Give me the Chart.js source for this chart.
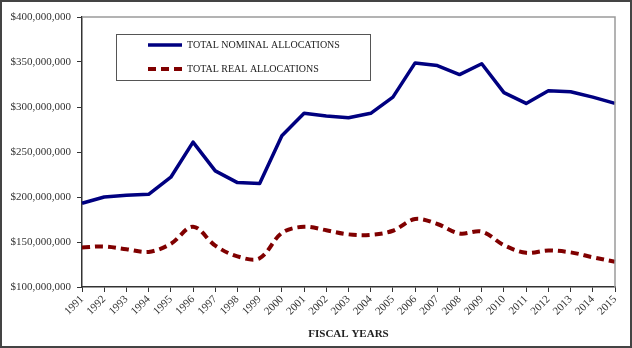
<!DOCTYPE html>
<html>
<head>
<meta charset="utf-8">
<script src="https://cdn.jsdelivr.net/npm/chart.js@4"></script>
<style>
  html, body { margin: 0; padding: 0; background: #fff; }
  #allocChart { display: block; }
</style>
</head>
<body>
<canvas id="allocChart" width="632" height="348"></canvas>
<script>
const years = ['1991','1992','1993','1994','1995','1996','1997','1998','1999','2000','2001','2002','2003',
  '2004','2005','2006','2007','2008','2009','2010','2011','2012','2013','2014','2015'];

// values in dollars
const nominal = [193e6, 200e6, 202e6, 203e6, 222e6, 261e6, 229e6, 216e6, 215e6, 268e6, 293e6, 290e6, 288e6,
  293e6, 311e6, 349e6, 346e6, 336e6, 348e6, 316e6, 304e6, 318e6, 317e6, 311e6, 304e6];
const real = [144e6, 145e6, 142e6, 139e6, 148e6, 167e6, 146e6, 134e6, 132e6, 160e6, 167e6, 163e6, 158.5e6,
  158e6, 162.5e6, 175.5e6, 170e6, 159.5e6, 161.5e6, 146.5e6, 138e6, 140.5e6, 138.5e6, 133e6, 128e6];

const serif = "'Liberation Serif', 'Times New Roman', serif";

function money(v) {
  return '$' + v.toLocaleString('en-US');
}

// box legend, plot frame and outer border
const framePlugin = {
  id: 'frame',
  afterDraw(chart) {
    const ctx = chart.ctx;
    const a = chart.chartArea;
    ctx.save();
    // grey top + right of plot area
    ctx.strokeStyle = '#9a9a9a';
    ctx.lineWidth = 1.5;
    ctx.beginPath();
    ctx.moveTo(a.left, a.top);
    ctx.lineTo(a.right, a.top);
    ctx.lineTo(a.right, a.bottom);
    ctx.stroke();

    // legend box
    ctx.strokeStyle = '#555';
    ctx.lineWidth = 1;
    ctx.strokeRect(116.5, 34.5, 254, 46);
    chart.data.datasets.forEach((ds, i) => {
      const y = 45 + i * 24;
      ctx.beginPath();
      ctx.strokeStyle = ds.borderColor;
      ctx.lineWidth = ds.borderWidth;
      ctx.setLineDash(ds.borderDash || []);
      ctx.moveTo(148, y);
      ctx.lineTo(182, y);
      ctx.stroke();
      ctx.setLineDash([]);
      ctx.fillStyle = '#222';
      ctx.font = '10px ' + serif;
      ctx.textBaseline = 'middle';
      ctx.fillText(ds.label, 187, y);
    });

    // outer border
    ctx.strokeStyle = '#444';
    ctx.lineWidth = 2;
    ctx.strokeRect(1, 1, 630, 346);
    ctx.restore();
  }
};

const ctx = document.getElementById('allocChart').getContext('2d');
window.allocChart = new Chart(ctx, {
  type: 'line',
  data: {
    labels: years,
    datasets: [{
      label: 'TOTAL NOMINAL ALLOCATIONS',
      data: nominal,
      borderColor: '#000080',
      borderWidth: 3.5,
      pointRadius: 0,
      tension: 0,
      borderJoinStyle: 'round'
    }, {
      label: 'TOTAL REAL ALLOCATIONS',
      data: real,
      borderColor: '#800000',
      borderWidth: 4,
      borderDash: [8, 5],
      pointRadius: 0,
      tension: 0.35
    }]
  },
  options: {
    responsive: false,
    animation: false,
    devicePixelRatio: 1,
    layout: { padding: { top: 17, right: 17, left: 0, bottom: 0 } },
    plugins: {
      legend: { display: false },
      tooltip: { enabled: false }
    },
    scales: {
      x: {
        offset: false,
        grid: { display: true, drawOnChartArea: false, drawTicks: true, tickLength: 5, color: '#333' },
        border: { display: true, color: '#333', width: 1.5 },
        ticks: {
          minRotation: 45, maxRotation: 45, autoSkip: false, padding: 1,
          color: '#333', font: { family: serif, size: 11 }
        },
        title: {
          display: true, text: 'FISCAL YEARS', color: '#222',
          font: { family: serif, size: 11, weight: 'bold' },
          padding: { top: 0, bottom: 7 }
        },
        afterFit(scale) { scale.height = 61; }
      },
      y: {
        min: 100000000,
        max: 400000000,
        grid: { display: true, drawOnChartArea: false, drawTicks: true, tickLength: 5, color: '#333' },
        border: { display: true, color: '#333', width: 1.5 },
        ticks: {
          stepSize: 50000000, padding: 6,
          color: '#333', font: { family: serif, size: 11 },
          callback: v => money(v)
        },
        afterFit(scale) { scale.width = 82; }
      }
    }
  },
  plugins: [framePlugin]
});
</script>
</body>
</html>
